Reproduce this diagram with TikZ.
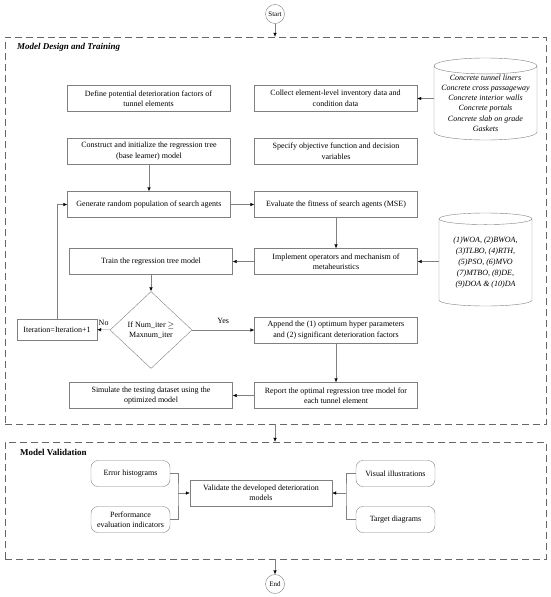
\documentclass[tikz,border=0pt]{standalone}
\usepackage{fontspec}
\setmainfont{Liberation Serif}
\usetikzlibrary{shapes.geometric,arrows.meta}

\begin{document}
\begin{tikzpicture}[x=1pt,y=-1pt,font=\fontsize{8}{10.5}\selectfont]
\tikzset{BoxStyle/.style ={draw=black!50, minimum width=163, minimum height=26, align=center, inner sep=1}}
\tikzset{RoundStyle/.style ={BoxStyle, rounded corners=7, minimum width=79}}
\tikzset{DataStyle/.style ={cylinder, shape border rotate=90, draw=black!50, aspect=0.18, align=center, inner sep=0, anchor=shape center, font=\fontsize{8}{10.3}\selectfont\itshape}}
\tikzset{FrameStyle/.style ={draw=black!60, dash pattern=on 7pt off 4pt, inner sep=0}}
\tikzset{TermStyle/.style ={circle, draw=black!50, minimum size=19, inner sep=0, font=\fontsize{7}{8}\selectfont}}
\tikzset{TitleStyle/.style ={anchor=west, inner sep=0, font=\fontsize{9}{10}\selectfont\bfseries}}
\tikzset{EdgeStyle/.style ={draw=black!50, -{Latex[color=black, length=4, width=3.5]}}}
\useasboundingbox (0,0) rectangle (550,597);
% frames
\node[FrameStyle, minimum width=541, minimum height=387] (design) at (275.5,230.5) {};
\node[FrameStyle, minimum width=541, minimum height=117] (valid) at (275.5,500.5) {};
\node[TitleStyle] (titleA) at (17,47) {\itshape Model Design and Training};
\node[TitleStyle] (titleB) at (20,452) {Model Validation};
% terminals
\node[TermStyle] (start) at (275,14) {Start};
\node[TermStyle] (end) at (275,584) {End};
% model design and training
\node[BoxStyle] (define) at (148.5,98.5) {Define potential deterioration factors of\\tunnel elements};
\node[BoxStyle] (collect) at (335.5,98.5) {Collect element-level inventory data and\\condition data};
\node[DataStyle, minimum width=103, minimum height=82] (elements) at (485.5,99) {Concrete tunnel liners\\Concrete cross passageway\\Concrete interior walls\\Concrete portals\\Concrete slab on grade\\Gaskets};
\node[BoxStyle] (construct) at (149,151) {Construct and initialize the regression tree\\(base learner) model};
\node[BoxStyle] (specify) at (336,151) {Specify objective function and decision\\variables};
\node[BoxStyle] (generate) at (149,204.5) {Generate random population of search agents};
\node[BoxStyle] (evaluate) at (336,204.5) {Evaluate the fitness of search agents (MSE)};
\node[BoxStyle] (train) at (151,261.5) {Train the regression tree model};
\node[BoxStyle] (implement) at (336,261.5) {Implement operators and mechanism of\\metaheuristics};
\node[DataStyle, minimum width=93, minimum height=93, font=\fontsize{8}{10.8}\selectfont\itshape] (metaheur) at (485.5,259.5) {(1)WOA, (2)BWOA,\\(3)TLBO, (4)RTH,\\(5)PSO, (6)MVO\\(7)MTBO, (8)DE,\\(9)DOA \& (10)DA};
\node[diamond, draw=black!50, minimum width=82, minimum height=77, inner sep=0, align=center] (check) at (151,330) {If Num\_iter $\geq$\\Maxnum\_iter};
\node[BoxStyle, minimum width=80, minimum height=21] (iterate) at (57,329.5) {Iteration=Iteration+1};
\node[BoxStyle] (append) at (336,330) {Append the (1) optimum hyper parameters\\and (2) significant deterioration factors};
\node[BoxStyle] (simulate) at (151,395.5) {Simulate the testing dataset using the\\optimized model};
\node[BoxStyle] (report) at (336,395.5) {Report the optimal regression tree model for\\each tunnel element};
% model validation
\node[RoundStyle] (errhist) at (130.5,473.5) {Error histograms};
\node[RoundStyle] (perf) at (130.5,519.5) {Performance\\evaluation indicators};
\node[BoxStyle, minimum width=142] (validate) at (261,493) {Validate the developed deterioration\\models};
\node[RoundStyle] (visual) at (395.5,473.5) {Visual illustrations};
\node[RoundStyle] (target) at (395.5,519.5) {Target diagrams};
\coordinate (joinL) at (178,493);
\coordinate (joinR) at (346,493);
% connectors
\draw[EdgeStyle] (start) -- (start |- design.north);
\draw[EdgeStyle] (elements.west |- collect) -- (collect);
\draw[EdgeStyle] (construct) -- (generate);
\draw[EdgeStyle] (generate) -- (evaluate);
\draw[EdgeStyle] (evaluate) -- (implement);
\draw[EdgeStyle] (implement) -- (train);
\draw[EdgeStyle] (metaheur.west |- implement) -- (implement);
\draw[EdgeStyle] (train) -- (check);
\draw[EdgeStyle] (check) -- node[above=1] {No} (iterate);
\draw[EdgeStyle] (check) -- node[above=3] {Yes} (append);
\draw[EdgeStyle] (iterate.north) |- (generate.west);
\draw[EdgeStyle] (append) -- (report);
\draw[EdgeStyle] (report) -- (simulate);
\draw[EdgeStyle] (design.south -| start) -- (valid.north -| start);
\draw[draw=black!50] (errhist.east) -| (joinL) |- (perf.east);
\draw[EdgeStyle] (joinL) -- (validate);
\draw[draw=black!50] (visual.west) -| (joinR) |- (target.west);
\draw[EdgeStyle] (joinR) -- (validate);
\draw[EdgeStyle] (valid.south -| start) -- (end);
\end{tikzpicture}
\end{document}
